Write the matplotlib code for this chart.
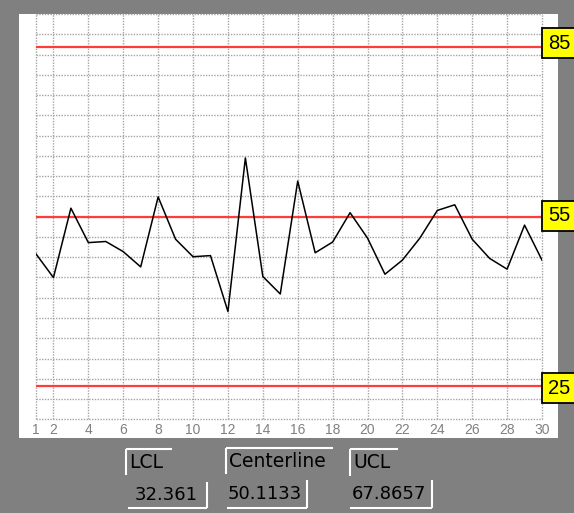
import numpy as np
import matplotlib
matplotlib.use('agg')
import matplotlib.pyplot as plt
from matplotlib.patches import Rectangle

plt.rcParams['font.family'] = ['Liberation Sans', 'DejaVu Sans']

#------------------------------------------------------------------------------
# DATA
#------------------------------------------------------------------------------

samples = np.arange(1, 31)
values = [48.4, 44.2, 56.5, 50.4, 50.6, 48.8, 46.1, 58.5, 51.0, 47.9,
          48.1, 38.2, 65.4, 44.4, 41.3, 61.3, 48.6, 50.5, 55.7, 51.2,
          44.8, 47.3, 51.2, 56.1, 57.1, 51.0, 47.6, 45.7, 53.5, 47.3]
spec_lines = [25, 55, 85]
xtick_values = [1] + list(range(2, 31, 2))
stat_names = ['LCL', 'Centerline', 'UCL']
stat_values = ['32.361', '50.1133', '67.8657']

#------------------------------------------------------------------------------
# SETTINGS (pixel layout of a 574x513 canvas)
#------------------------------------------------------------------------------

W, H = 574, 513
ylo, yhi = 19.1, 90.9
gridcolor = '#a4a4a4'
boxfont = 'DejaVu Sans'
label_dy = [-1.7, 0.7, 3.0]   # small vertical nudges of the yellow tags (points)
# label frames: left x, top y, right x of top line, bottom y of left line
label_frames = [(126, 448.5, 172, 475), (226, 447.5, 333, 474), (350, 449, 398, 476)]
# value frames: left x of bottom line, right x, top y of right line, bottom y
value_frames = [(128, 207, 481.5, 508), (227, 307, 480, 508), (350, 432, 480, 508)]
value_text_x = [135, 228, 352]

fig = plt.figure(figsize=(W / 100, H / 100), dpi=100, facecolor='#808080')

# background panel in pixel coordinates
bg = fig.add_axes([0, 0, 1, 1], zorder=0)
bg.set_xlim(0, W); bg.set_ylim(H, 0); bg.axis('off')
bg.add_patch(Rectangle((19, 14), 539, 424, fc='white', ec='none'))

for name, (x0, y0, x1, y1) in zip(stat_names, label_frames):
    bg.plot([x0, x1], [y0, y0], color='white', lw=1.5, solid_capstyle='butt')
    bg.plot([x0, x0], [y0, y1], color='white', lw=1.5, solid_capstyle='butt')
    bg.text(x0 + 3, (y0 + y1) / 2 + 0.5, name, fontsize=13.5, color='black',
            family=boxfont, ha='left', va='center')

for val, tx, (x0, x1, y0, y1) in zip(stat_values, value_text_x, value_frames):
    bg.plot([x0, x1], [y1, y1], color='white', lw=1.5, solid_capstyle='butt')
    bg.plot([x1, x1], [y0, y1], color='white', lw=1.5, solid_capstyle='butt')
    bg.text(tx, (y0 + y1) / 2, val, fontsize=13, color='black',
            family=boxfont, ha='left', va='center')

#------------------------------------------------------------------------------
# PLOT: control chart
#------------------------------------------------------------------------------

ax = fig.add_axes([36 / W, (H - 419.3) / H, 506 / W, 405.3 / H], zorder=1)
ax.set_facecolor('white')
ax.set_xlim(1, 30)
ax.set_ylim(ylo, yhi)
for s in ax.spines.values():
    s.set_visible(False)

ax.set_xticks(xtick_values)
ax.set_yticks(np.linspace(ylo, yhi, 21))
ax.tick_params(axis='x', length=0, pad=2.5, labelsize=10, labelcolor='#808080')
ax.tick_params(axis='y', length=0, labelleft=False)
ax.set_axisbelow(True)
ax.grid(True, color=gridcolor, lw=1.0, ls=(0, (1, 1)))
for gl in ax.get_xgridlines() + ax.get_ygridlines():
    gl.set_clip_on(False)

for v, dy in zip(spec_lines, label_dy):
    ax.axhline(v, color='#ff3c3c', lw=1.6, zorder=2)
    ax.annotate(str(v), xy=(1, v), xycoords=ax.get_yaxis_transform(),
                xytext=(4.2, dy), textcoords='offset points', ha='left',
                va='center', fontsize=14.5, color='black', annotation_clip=False,
                bbox=dict(boxstyle='square,pad=0.28', fc='yellow', ec='black', lw=1.3),
                zorder=5)

ax.plot(samples, values, color='black', lw=1.1, zorder=3)

plt.savefig('out.png', dpi=100, facecolor=fig.get_facecolor())
